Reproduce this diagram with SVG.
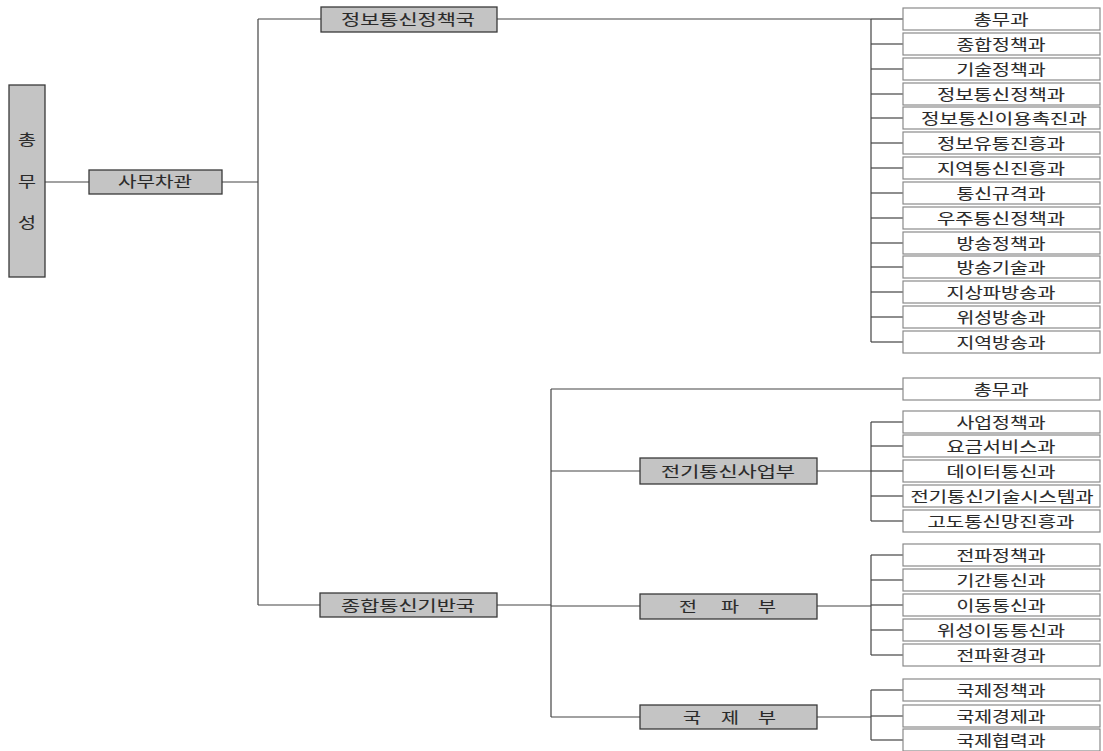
<svg xmlns="http://www.w3.org/2000/svg" width="1103" height="751" viewBox="0 0 1103 751">
<style>
.g{fill:#c4c4c4;stroke:#3a3a3a;stroke-width:1.3}
.w{fill:#fff;stroke:#8a8a8a;stroke-width:1.2}
.t{font-family:"Noto Sans CJK KR","Noto Sans",sans-serif;font-size:15px;fill:#2a2a2a;stroke:#2a2a2a;stroke-width:0.1;text-anchor:middle}
.c line{stroke:#444;stroke-width:1.2;fill:none}
</style>
<rect width="1103" height="751" fill="#fff"/>
<g class="c" id="connectors">
<line x1="45" y1="182" x2="89" y2="182"/>
<line x1="222" y1="182" x2="258" y2="182"/>
<line x1="258" y1="19" x2="258" y2="605"/>
<line x1="258" y1="19" x2="321" y2="19"/>
<line x1="258" y1="605" x2="320" y2="605"/>
<line x1="497" y1="19" x2="871" y2="19"/>
<line x1="871" y1="19" x2="871" y2="342"/>
<line x1="871" y1="19" x2="903" y2="19"/>
<line x1="871" y1="44" x2="903" y2="44"/>
<line x1="871" y1="69" x2="903" y2="69"/>
<line x1="871" y1="94" x2="903" y2="94"/>
<line x1="871" y1="118" x2="903" y2="118"/>
<line x1="871" y1="143" x2="903" y2="143"/>
<line x1="871" y1="168" x2="903" y2="168"/>
<line x1="871" y1="193" x2="903" y2="193"/>
<line x1="871" y1="218" x2="903" y2="218"/>
<line x1="871" y1="243" x2="903" y2="243"/>
<line x1="871" y1="267" x2="903" y2="267"/>
<line x1="871" y1="292" x2="903" y2="292"/>
<line x1="871" y1="317" x2="903" y2="317"/>
<line x1="871" y1="342" x2="903" y2="342"/>
<line x1="497" y1="605" x2="551" y2="605"/>
<line x1="551" y1="389" x2="551" y2="717"/>
<line x1="551" y1="389" x2="903" y2="389"/>
<line x1="551" y1="471" x2="640" y2="471"/>
<line x1="551" y1="606" x2="640" y2="606"/>
<line x1="551" y1="717" x2="640" y2="717"/>
<line x1="817" y1="471" x2="871" y2="471"/>
<line x1="871" y1="422" x2="871" y2="521"/>
<line x1="871" y1="422" x2="903" y2="422"/>
<line x1="871" y1="446" x2="903" y2="446"/>
<line x1="871" y1="471" x2="903" y2="471"/>
<line x1="871" y1="496" x2="903" y2="496"/>
<line x1="871" y1="521" x2="903" y2="521"/>
<line x1="817" y1="606" x2="871" y2="606"/>
<line x1="871" y1="555" x2="871" y2="655"/>
<line x1="871" y1="555" x2="903" y2="555"/>
<line x1="871" y1="580" x2="903" y2="580"/>
<line x1="871" y1="605" x2="903" y2="605"/>
<line x1="871" y1="630" x2="903" y2="630"/>
<line x1="871" y1="655" x2="903" y2="655"/>
<line x1="817" y1="717" x2="871" y2="717"/>
<line x1="871" y1="690" x2="871" y2="740"/>
<line x1="871" y1="690" x2="903" y2="690"/>
<line x1="871" y1="716" x2="903" y2="716"/>
<line x1="871" y1="740" x2="903" y2="740"/>
</g>
<g id="n-ministry"><rect class="g" x="9" y="85" width="36" height="192"/>
<text class="t" x="27" y="145" textLength="18" lengthAdjust="spacingAndGlyphs">총</text><text class="t" x="27" y="187" textLength="18" lengthAdjust="spacingAndGlyphs">무</text><text class="t" x="27" y="228" textLength="18" lengthAdjust="spacingAndGlyphs">성</text></g>
<g id="n-vice"><rect class="g" x="89" y="170" width="133" height="24"/><text class="t" x="155" y="187" textLength="74" lengthAdjust="spacingAndGlyphs">사무차관</text></g>
<g id="n-bureau1"><rect class="g" x="321" y="7" width="176" height="25"/><text class="t" x="408" y="25" textLength="134" lengthAdjust="spacingAndGlyphs">정보통신정책국</text></g>
<g id="n-bureau2"><rect class="g" x="320" y="593" width="177" height="24"/><text class="t" x="408" y="611" textLength="134" lengthAdjust="spacingAndGlyphs">종합통신기반국</text></g>
<g id="n-telecom"><rect class="g" x="640" y="458" width="177" height="26"/><text class="t" x="728" y="477" textLength="134" lengthAdjust="spacingAndGlyphs">전기통신사업부</text></g>
<g id="n-radio"><rect class="g" x="640" y="594" width="177" height="25"/><text class="t" x="688" y="612" textLength="18" lengthAdjust="spacingAndGlyphs">전</text><text class="t" x="730" y="612" textLength="18" lengthAdjust="spacingAndGlyphs">파</text><text class="t" x="767" y="612" textLength="18" lengthAdjust="spacingAndGlyphs">부</text></g>
<g id="n-intl"><rect class="g" x="640" y="705" width="177" height="24"/><text class="t" x="692" y="723" textLength="18" lengthAdjust="spacingAndGlyphs">국</text><text class="t" x="730" y="723" textLength="18" lengthAdjust="spacingAndGlyphs">제</text><text class="t" x="767" y="723" textLength="18" lengthAdjust="spacingAndGlyphs">부</text></g>
<g id="n-r1"><rect class="w" x="903" y="8" width="197" height="22"/><text class="t" x="1001" y="25" textLength="55" lengthAdjust="spacingAndGlyphs">총무과</text></g>
<g id="n-r2"><rect class="w" x="903" y="33" width="197" height="22"/><text class="t" x="1001" y="50" textLength="89" lengthAdjust="spacingAndGlyphs">종합정책과</text></g>
<g id="n-r3"><rect class="w" x="903" y="58" width="197" height="22"/><text class="t" x="1001" y="75" textLength="89" lengthAdjust="spacingAndGlyphs">기술정책과</text></g>
<g id="n-r4"><rect class="w" x="903" y="83" width="197" height="22"/><text class="t" x="1001" y="100" textLength="128" lengthAdjust="spacingAndGlyphs">정보통신정책과</text></g>
<g id="n-r5"><rect class="w" x="903" y="107" width="197" height="22"/><text class="t" x="1004" y="124" textLength="166" lengthAdjust="spacingAndGlyphs">정보통신이용촉진과</text></g>
<g id="n-r6"><rect class="w" x="903" y="132" width="197" height="22"/><text class="t" x="1001" y="149" textLength="128" lengthAdjust="spacingAndGlyphs">정보유통진흥과</text></g>
<g id="n-r7"><rect class="w" x="903" y="157" width="197" height="22"/><text class="t" x="1001" y="174" textLength="128" lengthAdjust="spacingAndGlyphs">지역통신진흥과</text></g>
<g id="n-r8"><rect class="w" x="903" y="182" width="197" height="22"/><text class="t" x="1001" y="199" textLength="89" lengthAdjust="spacingAndGlyphs">통신규격과</text></g>
<g id="n-r9"><rect class="w" x="903" y="207" width="197" height="22"/><text class="t" x="1001" y="224" textLength="128" lengthAdjust="spacingAndGlyphs">우주통신정책과</text></g>
<g id="n-r10"><rect class="w" x="903" y="232" width="197" height="22"/><text class="t" x="1001" y="249" textLength="89" lengthAdjust="spacingAndGlyphs">방송정책과</text></g>
<g id="n-r11"><rect class="w" x="903" y="256" width="197" height="22"/><text class="t" x="1001" y="273" textLength="89" lengthAdjust="spacingAndGlyphs">방송기술과</text></g>
<g id="n-r12"><rect class="w" x="903" y="281" width="197" height="22"/><text class="t" x="1001" y="298" textLength="109" lengthAdjust="spacingAndGlyphs">지상파방송과</text></g>
<g id="n-r13"><rect class="w" x="903" y="306" width="197" height="22"/><text class="t" x="1001" y="323" textLength="89" lengthAdjust="spacingAndGlyphs">위성방송과</text></g>
<g id="n-r14"><rect class="w" x="903" y="331" width="197" height="22"/><text class="t" x="1001" y="348" textLength="89" lengthAdjust="spacingAndGlyphs">지역방송과</text></g>
<g id="n-s1"><rect class="w" x="903" y="378" width="197" height="22"/><text class="t" x="1001" y="395" textLength="55" lengthAdjust="spacingAndGlyphs">총무과</text></g>
<g id="n-s2"><rect class="w" x="903" y="411" width="197" height="22"/><text class="t" x="1001" y="428" textLength="89" lengthAdjust="spacingAndGlyphs">사업정책과</text></g>
<g id="n-s3"><rect class="w" x="903" y="435" width="197" height="22"/><text class="t" x="1001" y="452" textLength="109" lengthAdjust="spacingAndGlyphs">요금서비스과</text></g>
<g id="n-s4"><rect class="w" x="903" y="460" width="197" height="22"/><text class="t" x="1001" y="477" textLength="109" lengthAdjust="spacingAndGlyphs">데이터통신과</text></g>
<g id="n-s5"><rect class="w" x="903" y="485" width="197" height="22"/><text class="t" x="1002" y="502" textLength="183" lengthAdjust="spacingAndGlyphs">전기통신기술시스템과</text></g>
<g id="n-s6"><rect class="w" x="903" y="510" width="197" height="22"/><text class="t" x="1001" y="527" textLength="147" lengthAdjust="spacingAndGlyphs">고도통신망진흥과</text></g>
<g id="n-s7"><rect class="w" x="903" y="544" width="197" height="22"/><text class="t" x="1001" y="561" textLength="89" lengthAdjust="spacingAndGlyphs">전파정책과</text></g>
<g id="n-s8"><rect class="w" x="903" y="569" width="197" height="22"/><text class="t" x="1001" y="586" textLength="89" lengthAdjust="spacingAndGlyphs">기간통신과</text></g>
<g id="n-s9"><rect class="w" x="903" y="594" width="197" height="22"/><text class="t" x="1001" y="611" textLength="89" lengthAdjust="spacingAndGlyphs">이동통신과</text></g>
<g id="n-s10"><rect class="w" x="903" y="619" width="197" height="22"/><text class="t" x="1001" y="636" textLength="128" lengthAdjust="spacingAndGlyphs">위성이동통신과</text></g>
<g id="n-s11"><rect class="w" x="903" y="644" width="197" height="22"/><text class="t" x="1001" y="661" textLength="89" lengthAdjust="spacingAndGlyphs">전파환경과</text></g>
<g id="n-s12"><rect class="w" x="903" y="679" width="197" height="22"/><text class="t" x="1001" y="696" textLength="89" lengthAdjust="spacingAndGlyphs">국제정책과</text></g>
<g id="n-s13"><rect class="w" x="903" y="705" width="197" height="22"/><text class="t" x="1001" y="722" textLength="89" lengthAdjust="spacingAndGlyphs">국제경제과</text></g>
<g id="n-s14"><rect class="w" x="903" y="729" width="197" height="22"/><text class="t" x="1001" y="746" textLength="89" lengthAdjust="spacingAndGlyphs">국제협력과</text></g>
</svg>
